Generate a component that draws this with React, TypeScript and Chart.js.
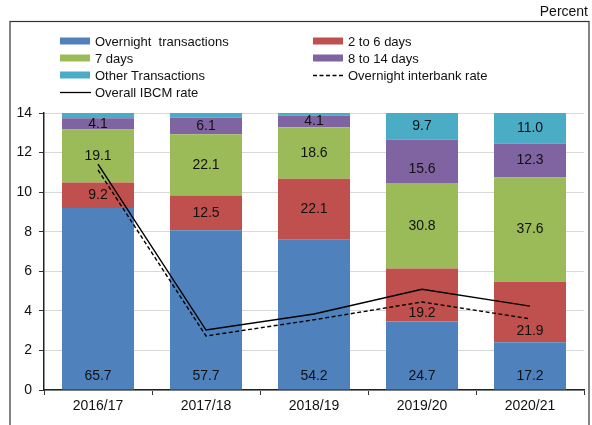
import React, { useEffect, useRef } from "react";
import { Chart, registerables } from "chart.js";

Chart.register(...registerables);

const categories = ["2016/17", "2017/18", "2018/19", "2019/20", "2020/21"];
const overnightShare = [65.7, 57.7, 54.2, 24.7, 17.2];
const twoToSixShare = [9.2, 12.5, 22.1, 19.2, 21.9];
const sevenDaysShare = [19.1, 22.1, 18.6, 30.8, 37.6];
const eightToFourteenShare = [4.1, 6.1, 4.1, 15.6, 12.3];
const otherShare = [1.9, 1.6, 1.0, 9.7, 11.0];
const overallIbcmRate = [11.42, 3.03, 3.84, 5.09, 4.24];
const overnightInterbankRate = [11.12, 2.73, 3.55, 4.45, 3.6];
const yTicks = [0, 2, 4, 6, 8, 10, 12, 14];

// shares (percent of 100) are drawn on the 0-14 axis
const SHARE_SCALE = 14 / 100;
const FONT = "'Liberation Sans', Arial, Helvetica, sans-serif";

const labelShift: Record<string, number> = { "1-3": 18, "1-4": 19, "3-3": 8 };

const labelsPlugin = {
  id: "segLabels",
  afterDatasetsDraw(chart: any) {
    const ctx = chart.ctx;
    ctx.save();
    ctx.font = `14px ${FONT}`;
    ctx.fillStyle = "#111";
    ctx.textAlign = "center";
    ctx.textBaseline = "middle";
    chart.data.datasets.forEach((ds: any, di: number) => {
      if (!ds.shares) return;
      const meta = chart.getDatasetMeta(di);
      meta.data.forEach((el: any, i: number) => {
        const v = ds.shares[i];
        if (v < 4) return;
        let y: number;
        if (di === 0) y = el.base - 13;
        else y = (el.y + el.base) / 2 + (labelShift[`${di}-${i}`] || 0);
        ctx.fillText(v.toFixed(1), el.x, y);
      });
    });
    ctx.restore();
  },
};

const framePlugin = {
  id: "frame",
  afterDraw(chart: any) {
    const ctx = chart.ctx;
    ctx.save();
    ctx.strokeStyle = "#333";
    ctx.lineWidth = 1.2;
    ctx.strokeRect(10, 21.5, 579, 420);
    ctx.font = `14px ${FONT}`;
    ctx.fillStyle = "#111";
    ctx.textAlign = "right";
    ctx.textBaseline = "middle";
    ctx.fillText("Percent", 588, 12);

    // legend, two columns, row-major
    const cols = [60, 313];
    const rows = [41, 58, 75, 92];
    ctx.font = `13px ${FONT}`;
    ctx.textAlign = "left";
    chart.data.datasets.forEach((ds: any, i: number) => {
      const x = cols[i % 2];
      const y = rows[Math.floor(i / 2)];
      if (ds.type === "line") {
        ctx.beginPath();
        ctx.strokeStyle = "#000";
        ctx.lineWidth = 1.3;
        ctx.setLineDash(ds.borderDash || []);
        ctx.moveTo(x, y + 0.5);
        ctx.lineTo(x + 31, y + 0.5);
        ctx.stroke();
        ctx.setLineDash([]);
      } else {
        ctx.fillStyle = ds.backgroundColor;
        ctx.fillRect(x, y - 3.5, 30, 7);
      }
      ctx.fillStyle = "#111";
      ctx.fillText(ds.label, x + 35, y + 1);
    });
    ctx.restore();
  },
};

export default function App() {
  const ref = useRef<HTMLCanvasElement>(null);
  useEffect(() => {
    if (!ref.current) return;
    const mk = (label: string, shares: number[], color: string) => ({
      type: "bar" as const,
      label,
      shares,
      data: shares.map((s) => s * SHARE_SCALE),
      backgroundColor: color,
      borderWidth: 0,
      stack: "bars",
      order: 2,
      barPercentage: 0.667,
      categoryPercentage: 1,
    });
    const chart = new Chart(ref.current, {
      type: "bar",
      data: {
        labels: categories,
        datasets: [
          mk("Overnight  transactions", overnightShare, "#4F81BD"),
          mk("2 to 6 days", twoToSixShare, "#C0504D"),
          mk("7 days", sevenDaysShare, "#9BBB59"),
          mk("8 to 14 days", eightToFourteenShare, "#8064A2"),
          mk("Other Transactions", otherShare, "#4BACC6"),
          {
            type: "line",
            label: "Overnight interbank rate",
            data: overnightInterbankRate,
            borderColor: "#000",
            borderWidth: 1.4,
            borderDash: [4, 2.5],
            pointRadius: 0,
            stack: "l1",
            order: 0,
            tension: 0,
          } as any,
          {
            type: "line",
            label: "Overall IBCM rate",
            data: overallIbcmRate,
            borderColor: "#000",
            borderWidth: 1.4,
            pointRadius: 0,
            stack: "l2",
            order: 0,
            tension: 0,
          } as any,
        ],
      },
      options: {
        animation: false,
        responsive: false,
        maintainAspectRatio: false,
        layout: { padding: { top: 113, right: 8, left: 0, bottom: 0 } },
        plugins: { legend: { display: false }, tooltip: { enabled: false } },
        scales: {
          x: {
            stacked: true,
            grid: {
              offset: true,
              drawOnChartArea: false,
              drawTicks: true,
              tickLength: 5,
              tickColor: "#333",
            },
            border: { display: true, color: "#222", width: 1.5 },
            ticks: { color: "#111", font: { size: 14, family: FONT }, padding: 3 },
            afterFit: (s: any) => {
              s.height = 35;
            },
          },
          y: {
            stacked: true,
            min: 0,
            max: 14,
            afterBuildTicks: (s: any) => {
              s.ticks = yTicks.map((v) => ({ value: v }));
            },
            grid: {
              color: "#d9d9d9",
              lineWidth: 1,
              tickLength: 5,
              tickColor: "#333",
            },
            border: { display: true, color: "#222", width: 1.5 },
            ticks: { color: "#111", font: { size: 14, family: FONT }, padding: 7 },
            afterFit: (s: any) => {
              s.width = 44;
            },
          },
        },
      },
      plugins: [labelsPlugin, framePlugin],
    });
    return () => chart.destroy();
  }, []);
  return (
    <div style={{ position: "absolute", left: 0, top: 0, width: 592, height: 425, background: "#fff" }}>
      <canvas ref={ref} width={592} height={425} style={{ width: 592, height: 425 }} />
    </div>
  );
}
